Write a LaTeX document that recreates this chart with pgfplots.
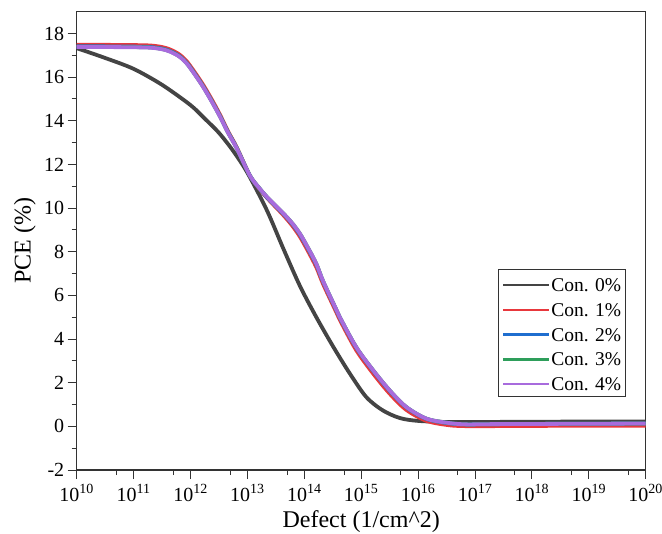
\documentclass[border=0pt]{standalone}
\usepackage{fontspec}
\setmainfont{Liberation Serif}
\usepackage{pgfplots}
\pgfplotsset{compat=1.18}
\definecolor{cgray}{HTML}{444444}
\definecolor{cred}{HTML}{E8383D}
\definecolor{cblue}{HTML}{1F6ECF}
\definecolor{cgreen}{HTML}{2E9E5B}
\definecolor{cpurple}{HTML}{A86BDD}
\definecolor{axc}{HTML}{333333}
\begin{document}
\begin{tikzpicture}
\begin{axis}[
  scale only axis, width=569pt, height=458.3pt,
  xmode=log, xmin=1e10, xmax=1e20, ymin=-2, ymax=19,
  xtick={1e10,1e11,1e12,1e13,1e14,1e15,1e16,1e17,1e18,1e19,1e20},
  xticklabels={10\textsuperscript{10},10\textsuperscript{11},10\textsuperscript{12},10\textsuperscript{13},10\textsuperscript{14},10\textsuperscript{15},10\textsuperscript{16},10\textsuperscript{17},10\textsuperscript{18},10\textsuperscript{19},10\textsuperscript{20}},
  minor xtick={5e10,5e11,5e12,5e13,5e14,5e15,5e16,5e17,5e18,5e19},
  ytick={-2,0,2,4,6,8,10,12,14,16,18},
  minor ytick={-1,1,3,5,7,9,11,13,15,17},
  tick pos=left, tick align=outside,
  major tick length=9pt, minor tick length=5pt,
  every tick/.style={axc, line width=1pt},
  axis line style={axc, line width=1.1pt},
  /pgf/number format/assume math mode=true,
  ticklabel style={font=\fontsize{20}{22}\selectfont},
  xticklabel style={yshift=-2pt},
  xlabel={Defect (1/cm\^{}2)}, ylabel={PCE (\%)},
  label style={font=\fontsize{24}{26}\selectfont},
  xlabel style={at={(axis description cs:0.5,-0.112)}, anchor=center},
  ylabel style={at={(axis description cs:-0.091,0.5)}, anchor=center},
  legend style={at={(axis description cs:0.9654,0.4386)}, anchor=north east,
    draw=axc, line width=0.6pt, font=\fontsize{19.5}{21}\selectfont,
    inner xsep=3.5pt, inner ysep=1.5pt, row sep=0pt,
    nodes={inner xsep=1pt, inner ysep=0.5pt, text height=20pt, text depth=3.9pt, anchor=base west}},
  legend cell align=left,
  legend image code/.code={\draw[#1, line width=2.2pt] (0pt,6.5pt) -- (46pt,6.5pt);},
]
\addplot[cgray, line width=3.8pt, smooth, tension=0.5] coordinates {
(1e10,17.33) (3.16e10,16.88) (1e11,16.38) (3.16e11,15.65) (1e12,14.72) (1.78e12,14.1)
(3.16e12,13.45) (5.62e12,12.62) (1e13,11.62) (2.19e13,9.91) (4.27e13,8.15)
(8.32e13,6.45) (1.62e14,5.01) (3.24e14,3.64) (6.31e14,2.42) (1.23e15,1.34)
(2.4e15,0.73) (4.79e15,0.38) (1e16,0.25) (3.16e16,0.2) (1e17,0.2) (1e18,0.21) (1e19,0.22) (1e20,0.22)};
\addlegendentry{Con. 0\%}
\addplot[cred, line width=3.8pt, smooth, tension=0.5] coordinates {
(1e10,17.48) (3.16e10,17.48) (1e11,17.47) (2e11,17.45) (3.16e11,17.38) (4.37e11,17.27)
(6.3e11,17.05) (8.5e11,16.74) (1.17e12,16.25) (1.66e12,15.66) (2.34e12,15.0) (3.3e12,14.28)
(4.57e12,13.52) (6.46e12,12.8) (1.1e13,11.5) (1.58e13,10.92) (2.19e13,10.48) (3.16e13,10.04)
(4.27e13,9.68) (6.03e13,9.22) (8.32e13,8.7) (1.15e14,8.05) (1.62e14,7.3) (2.14e14,6.52)
(3.47e14,5.35) (4.17e14,4.9) (8.13e14,3.5) (1.62e15,2.42) (3.16e15,1.5) (6.17e15,0.76)
(1.41e16,0.25) (3.55e16,0.05) (7.08e16,0.01) (1.58e17,0.01) (1e18,0.02) (1e19,0.03) (1e20,0.03)};
\addlegendentry{Con. 1\%}
\addplot[cblue, line width=3.8pt, smooth, tension=0.5] coordinates {
(1e10,17.41) (3.16e10,17.41) (1e11,17.4) (2e11,17.38) (3.16e11,17.31) (4.37e11,17.2)
(6.3e11,16.98) (8.5e11,16.67) (1.17e12,16.18) (1.66e12,15.59) (2.34e12,14.93) (3.3e12,14.22)
(4.57e12,13.48) (6.46e12,12.77) (1.1e13,11.5) (1.58e13,10.94) (2.19e13,10.5) (3.16e13,10.08)
(4.27e13,9.74) (6.03e13,9.3) (8.32e13,8.8) (1.15e14,8.16) (1.62e14,7.42) (2.14e14,6.63)
(3.47e14,5.45) (4.17e14,5.0) (8.13e14,3.62) (1.62e15,2.55) (3.16e15,1.63) (6.17e15,0.88)
(1.41e16,0.34) (3.55e16,0.14) (7.08e16,0.09) (1.58e17,0.1) (1e18,0.11) (1e19,0.12) (1e20,0.13)};
\addlegendentry{Con. 2\%}
\addplot[cgreen, line width=3.8pt, smooth, tension=0.5] coordinates {
(1e10,17.39) (3.16e10,17.39) (1e11,17.38) (2e11,17.36) (3.16e11,17.29) (4.37e11,17.18)
(6.3e11,16.96) (8.5e11,16.65) (1.17e12,16.16) (1.66e12,15.57) (2.34e12,14.91) (3.3e12,14.2)
(4.57e12,13.46) (6.46e12,12.76) (1.1e13,11.5) (1.58e13,10.95) (2.19e13,10.52) (3.16e13,10.1)
(4.27e13,9.76) (6.03e13,9.33) (8.32e13,8.84) (1.15e14,8.2) (1.62e14,7.46) (2.14e14,6.65)
(3.47e14,5.47) (4.17e14,5.02) (8.13e14,3.64) (1.62e15,2.57) (3.16e15,1.65) (6.17e15,0.89)
(1.41e16,0.35) (3.55e16,0.15) (7.08e16,0.09) (1.58e17,0.1) (1e18,0.11) (1e19,0.12) (1e20,0.13)};
\addlegendentry{Con. 3\%}
\addplot[cpurple, line width=3.8pt, smooth, tension=0.5] coordinates {
(1e10,17.38) (3.16e10,17.38) (1e11,17.37) (2e11,17.35) (3.16e11,17.28) (4.37e11,17.17)
(6.3e11,16.95) (8.5e11,16.64) (1.17e12,16.15) (1.66e12,15.56) (2.34e12,14.9) (3.3e12,14.19)
(4.57e12,13.45) (6.46e12,12.75) (1.1e13,11.5) (1.58e13,10.95) (2.19e13,10.52) (3.16e13,10.1)
(4.27e13,9.76) (6.03e13,9.33) (8.32e13,8.84) (1.15e14,8.2) (1.62e14,7.46) (2.14e14,6.65)
(3.47e14,5.47) (4.17e14,5.02) (8.13e14,3.64) (1.62e15,2.57) (3.16e15,1.65) (6.17e15,0.89)
(1.41e16,0.35) (3.55e16,0.15) (7.08e16,0.09) (1.58e17,0.1) (1e18,0.11) (1e19,0.12) (1e20,0.13)};
\addlegendentry{Con. 4\%}
\end{axis}
\pgfresetboundingbox
\path[use as bounding box] (-76.7pt,-63.7pt) rectangle (585.3pt,470pt);
\end{tikzpicture}
\end{document}
